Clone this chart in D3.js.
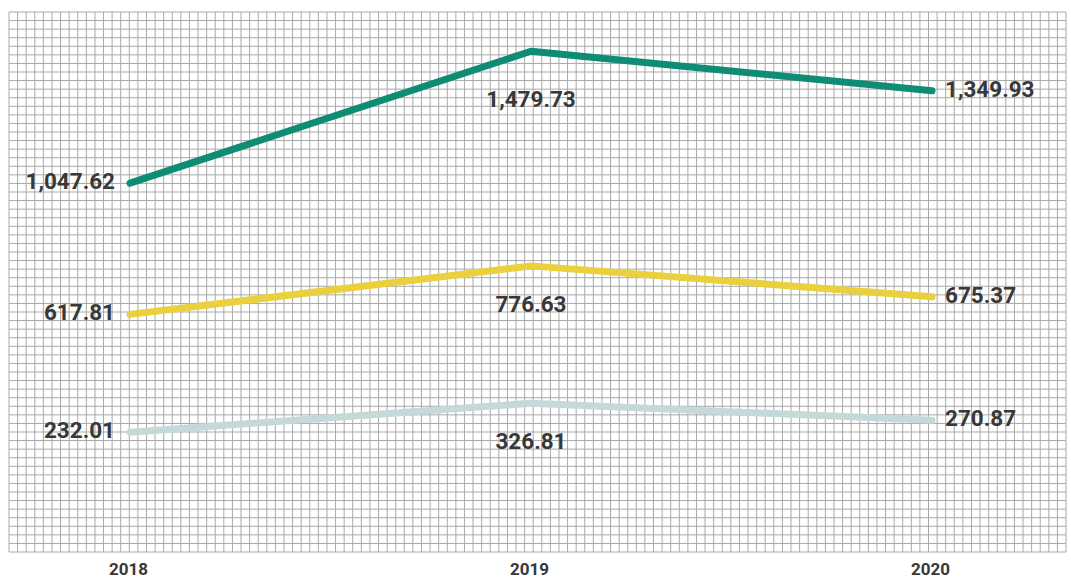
<!DOCTYPE html>
<html>
<head>
<meta charset="utf-8">
<script src="https://cdn.jsdelivr.net/npm/d3@7"></script>
<style>
  html, body { margin: 0; padding: 0; background: #fff; }
  svg { display: block; }
</style>
</head>
<body>
<svg id="chart" width="1071" height="580"></svg>
<script>
// Years along the x axis
const years = ["2018", "2019", "2020"];

// Three series, one value per year
const seriesTop = [1047.62, 1479.73, 1349.93];
const seriesMid = [617.81, 776.63, 675.37];
const seriesLow = [232.01, 326.81, 270.87];

const seriesColors = ["#0e8c74", "#ead03c", "#c6d9d9"];

const svg = d3.select("#chart");
const W = 1071, H = 580;

// Graph-paper background
const grid = { x0: 9, x1: 1066, y0: 12, y1: 552, cols: 123, rows: 63 };
const gx = d3.scaleLinear().domain([0, grid.cols]).range([grid.x0, grid.x1]);
const gy = d3.scaleLinear().domain([0, grid.rows]).range([grid.y0, grid.y1]);
const gridG = svg.append("g").attr("stroke", "#a9a9a9").attr("stroke-width", 1);
gridG.selectAll("line.v").data(d3.range(grid.cols + 1)).join("line")
  .attr("class", "v")
  .attr("x1", d => gx(d)).attr("x2", d => gx(d))
  .attr("y1", grid.y0).attr("y2", grid.y1);
gridG.selectAll("line.h").data(d3.range(grid.rows + 1)).join("line")
  .attr("class", "h")
  .attr("y1", d => gy(d)).attr("y2", d => gy(d))
  .attr("x1", grid.x0).attr("x2", grid.x1);

// Scales
const x = d3.scalePoint().domain(years).range([130, 932]);
const y = d3.scaleLinear().domain([0, 1600]).range([503, 14.5]);

const series = [seriesTop, seriesMid, seriesLow].map((vals, i) => ({
  color: seriesColors[i],
  points: vals.map((v, j) => ({ year: years[j], value: v }))
}));

// Lines
const line = d3.line().x(d => x(d.year)).y(d => y(d.value));
svg.append("g").selectAll("path").data(series).join("path")
  .attr("d", d => line(d.points))
  .attr("fill", "none")
  .attr("stroke", d => d.color)
  .attr("stroke-width", 7)
  .attr("stroke-linecap", "round")
  .attr("stroke-linejoin", "round");

// Value labels: left of first point, under the middle point, right of last point
const fmt = d3.format(",.2f");
const midOffset = [48, 38, 38];
const labelG = svg.append("g")
  .attr("font-family", "Roboto, 'DejaVu Sans', sans-serif")
  .attr("font-weight", 700)
  .attr("font-size", 22.5)
  .attr("fill", "#383838");
series.forEach((s, i) => {
  s.points.forEach((p, j) => {
    const t = labelG.append("text").text(fmt(p.value)).attr("dominant-baseline", "central");
    if (j === 0) {
      t.attr("x", x(p.year) - 15).attr("y", y(p.value) - 2).attr("text-anchor", "end");
    } else if (j === years.length - 1) {
      t.attr("x", x(p.year) + 13).attr("y", y(p.value) - 2).attr("text-anchor", "start");
    } else {
      t.attr("x", x(p.year)).attr("y", y(p.value) + midOffset[i]).attr("text-anchor", "middle");
    }
  });
});

// Year axis
const axisG = svg.append("g").attr("transform", `translate(-2, ${H - 5})`);
axisG.call(d3.axisBottom(x).tickSize(0).tickPadding(0))
  .call(g => g.select(".domain").remove())
  .call(g => g.selectAll("text")
    .attr("dy", 0)
    .attr("font-family", "Roboto, 'DejaVu Sans', sans-serif")
    .attr("font-weight", 700)
    .attr("font-size", 17)
    .attr("fill", "#383838"));
</script>
</body>
</html>
